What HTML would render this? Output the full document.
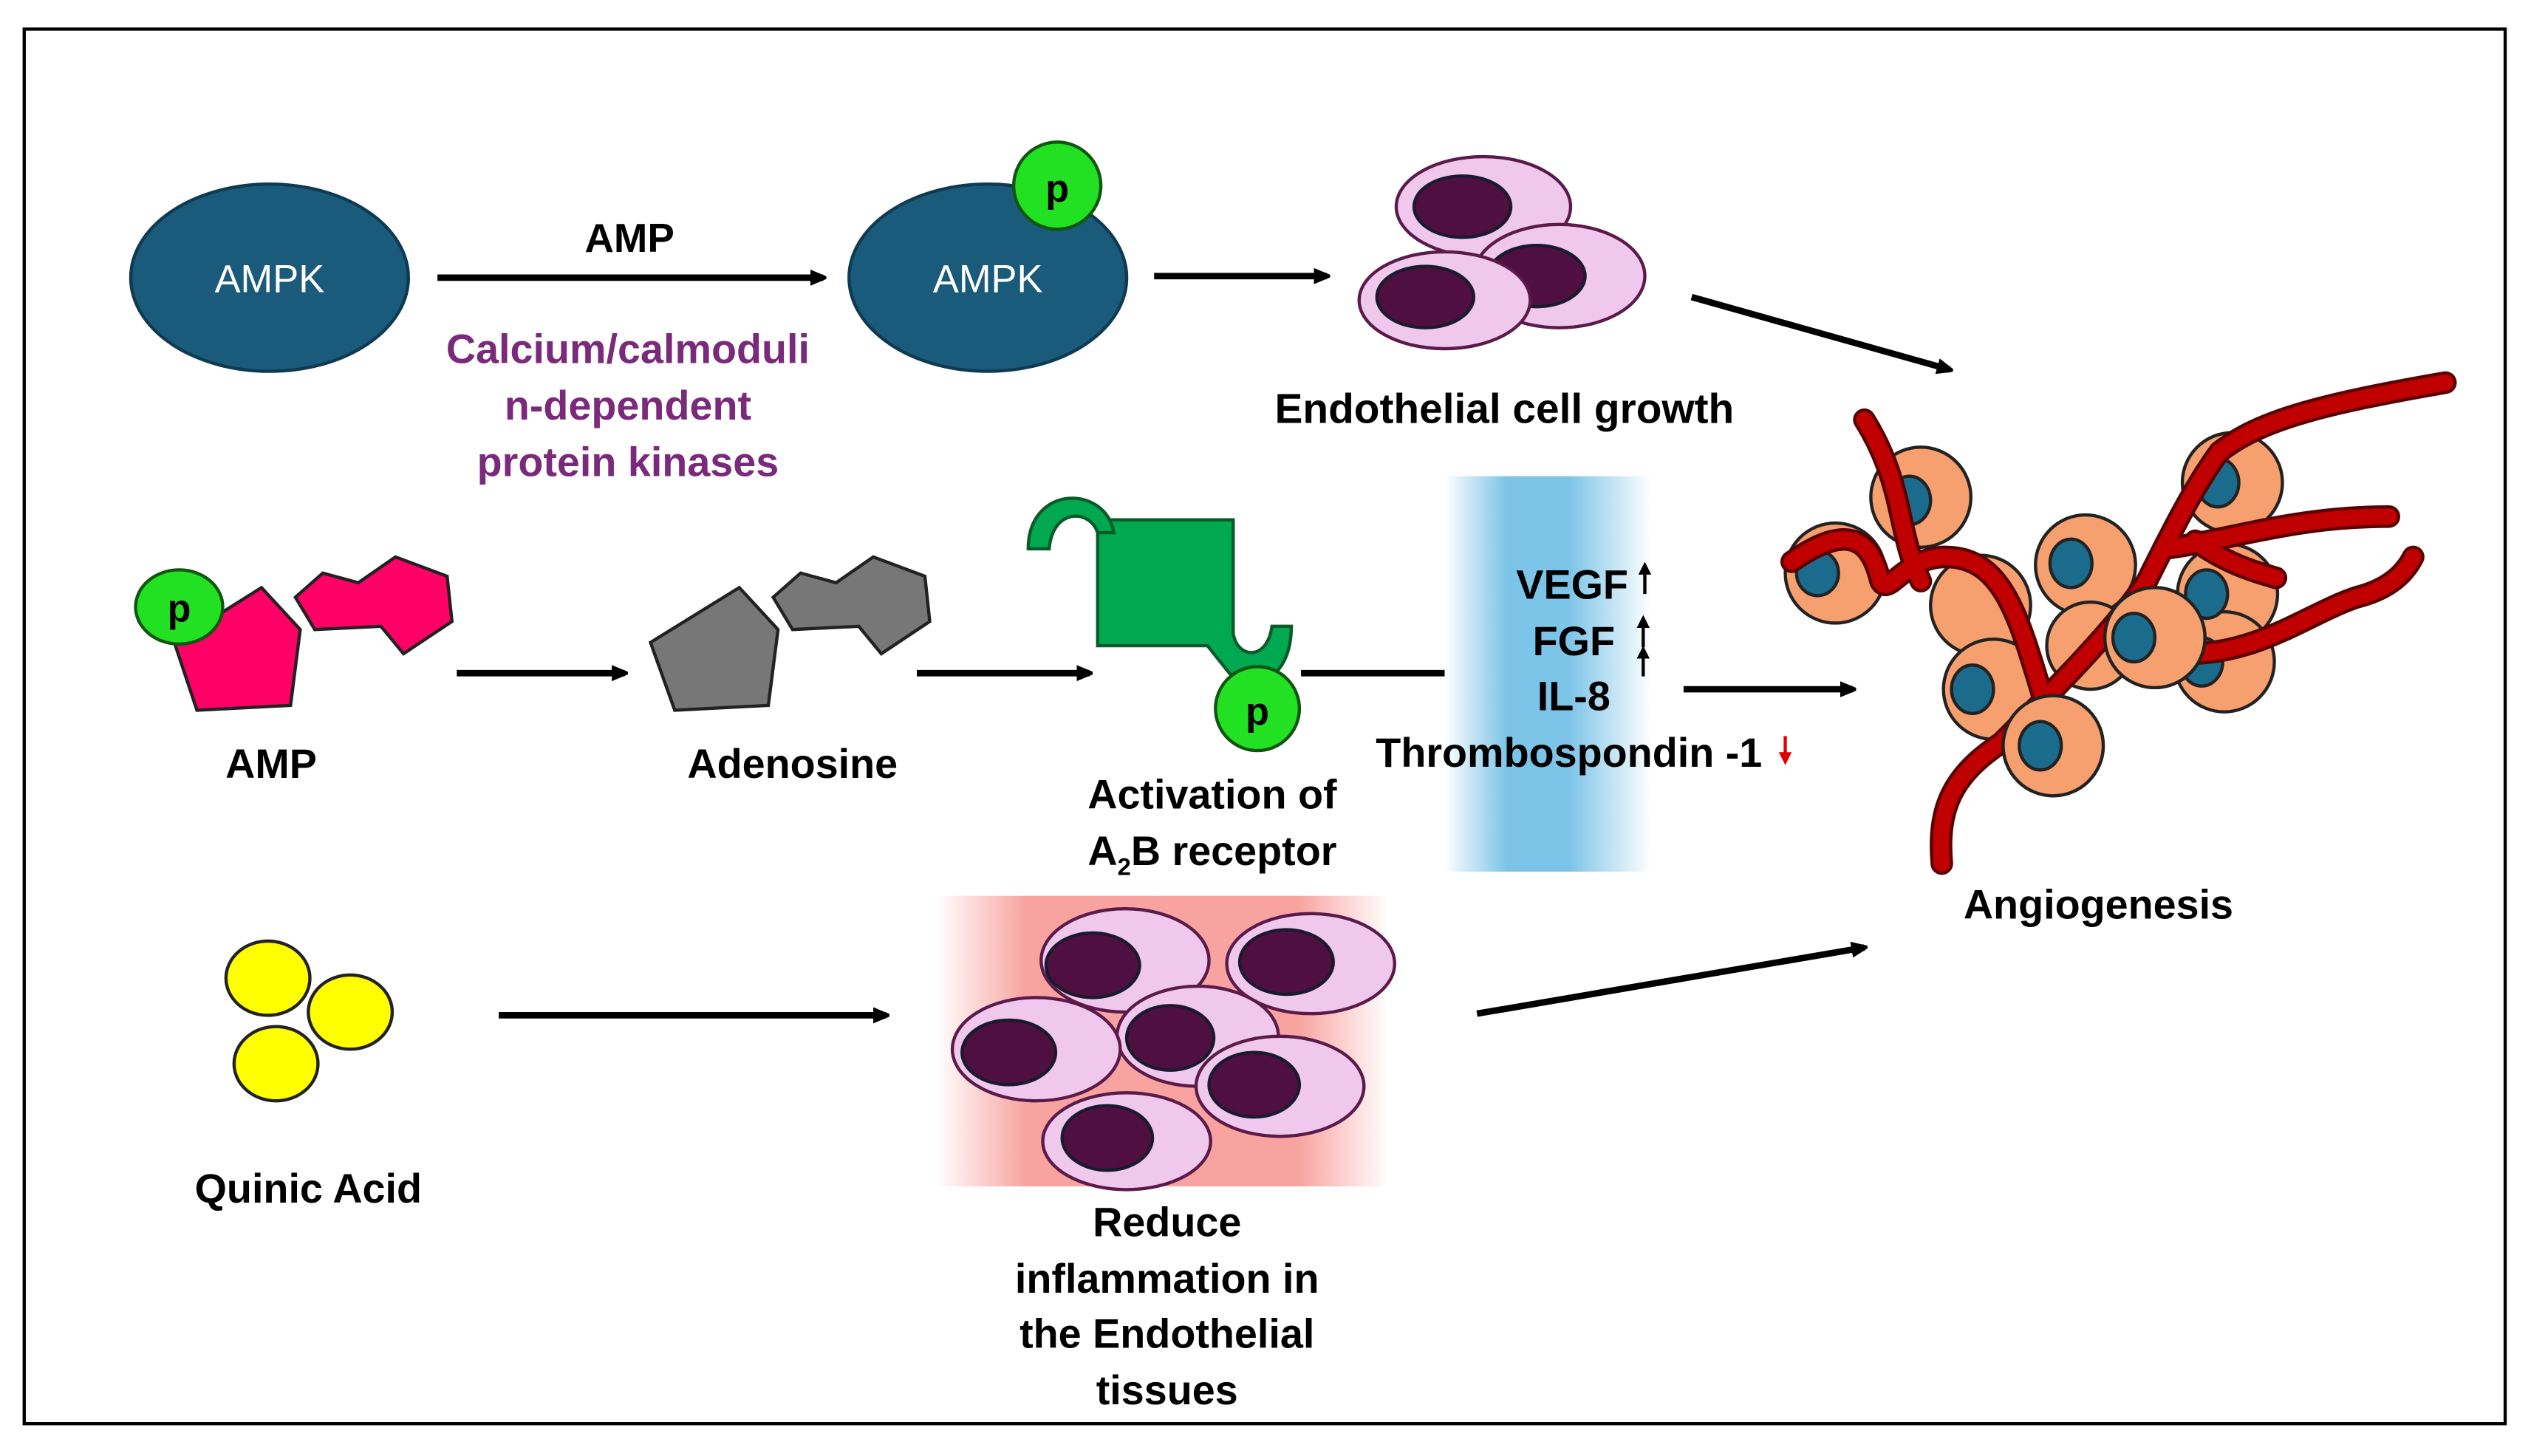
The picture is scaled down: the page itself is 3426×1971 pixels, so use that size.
<!DOCTYPE html>
<html><head><meta charset="utf-8"><style>
html,body{margin:0;padding:0;background:#fff;}
svg{display:block;}
text{font-family:"Liberation Sans",sans-serif;font-weight:bold;}
</style></head><body>
<svg width="3426" height="1971" viewBox="0 0 1568 902" xmlns="http://www.w3.org/2000/svg">
<defs>
<marker id="ah" markerWidth="10" markerHeight="10" refX="8" refY="5" orient="auto" markerUnits="userSpaceOnUse"><path d="M0,0 L12,5 L0,10 Z" fill="#000"/></marker>
<linearGradient id="blue" x1="0" x2="1" y1="0" y2="0">
<stop offset="0" stop-color="#fff"/><stop offset="0.3" stop-color="#7cc4e8"/><stop offset="0.6" stop-color="#7cc4e8"/><stop offset="1" stop-color="#fff"/></linearGradient>
<linearGradient id="red" x1="0" x2="1" y1="0" y2="0">
<stop offset="0" stop-color="#fff"/><stop offset="0.2" stop-color="#f8a3a0"/><stop offset="0.8" stop-color="#f8a3a0"/><stop offset="1" stop-color="#fff"/></linearGradient>
</defs>
<rect x="15" y="18" width="1537" height="864" fill="#fff" stroke="#000" stroke-width="2"/>

<ellipse cx="167" cy="172" rx="86" ry="58" fill="#1a5a7a" stroke="#0e3a52" stroke-width="2"/>
<text x="167" y="181" font-size="24" fill="#fff" text-anchor="middle" style="font-weight:normal">AMPK</text>
<ellipse cx="612" cy="172" rx="86" ry="58" fill="#1a5a7a" stroke="#0e3a52" stroke-width="2"/>
<text x="612" y="181" font-size="24" fill="#fff" text-anchor="middle" style="font-weight:normal">AMPK</text>
<circle cx="655" cy="115" r="27" fill="#22e022" stroke="#115511" stroke-width="2"/>
<text x="655" y="125" font-size="24" text-anchor="middle">p</text>
<line x1="271" y1="172" x2="510" y2="172" stroke="#000" stroke-width="4" marker-end="url(#ah)"/>
<text x="390" y="156" font-size="25" text-anchor="middle">AMP</text>
<g font-size="25.5" fill="#7a2a7a" text-anchor="middle">
<text x="389" y="225">Calcium/calmoduli</text>
<text x="389" y="260">n-dependent</text>
<text x="389" y="295">protein kinases</text></g>
<line x1="715" y1="171" x2="822" y2="171" stroke="#000" stroke-width="4" marker-end="url(#ah)"/>

<g stroke="#5a1a4a" stroke-width="2" fill="#f0c8ee">
<ellipse cx="919" cy="128" rx="54" ry="31"/>
<ellipse cx="906" cy="128" rx="30" ry="19" fill="#4f0f40" stroke="#1a1a30"/>
<ellipse cx="966" cy="171" rx="53" ry="32"/>
<ellipse cx="952" cy="171" rx="30" ry="19" fill="#4f0f40" stroke="#1a1a30"/>
<ellipse cx="895" cy="186" rx="53" ry="30"/>
<ellipse cx="883" cy="184" rx="30" ry="19" fill="#4f0f40" stroke="#1a1a30"/>
</g>
<text x="932" y="262" font-size="26" text-anchor="middle">Endothelial cell growth</text>
<line x1="1048" y1="184" x2="1208" y2="229" stroke="#000" stroke-width="4" marker-end="url(#ah)"/>

<g stroke="#222" stroke-width="2">
<polygon points="195,390 183,370 200,355 222,361 245,345 277,357 280,385 250,405 236,388" fill="#ff0066"/>
<polygon points="108,398 162,364 186,390 180,437 122,440" fill="#ff0066"/>
<polygon points="403,398 458,364 482,390 476,437 418,440" fill="#777"/>
<polygon points="491,390 479,370 496,355 518,361 541,345 573,357 576,385 546,405 532,388" fill="#777"/>
</g>
<ellipse cx="111" cy="376" rx="27" ry="23" fill="#22e022" stroke="#115511" stroke-width="2"/>
<text x="111" y="385" font-size="24" text-anchor="middle">p</text>
<text x="168" y="482" font-size="25.5" text-anchor="middle">AMP</text>
<text x="491" y="482" font-size="25.5" text-anchor="middle">Adenosine</text>
<line x1="283" y1="417" x2="387" y2="417" stroke="#000" stroke-width="4" marker-end="url(#ah)"/>
<line x1="568" y1="417" x2="675" y2="417" stroke="#000" stroke-width="4" marker-end="url(#ah)"/>

<path d="M680,322 L764,322 L764,392 C766,408 785,410 788,388 L800,388 C800,410 790,420 778,425 L768,425 C760,415 752,405 748,400 L680,400 Z" fill="#00a850" stroke="#0a5a2a" stroke-width="2"/>
<path d="M637,340 C637,300 685,300 690,330 L680,330 C675,315 652,315 650,340 Z" fill="#00a850" stroke="#0a5a2a" stroke-width="2"/>
<circle cx="779" cy="439" r="26" fill="#22e022" stroke="#115511" stroke-width="2"/>
<text x="779" y="449" font-size="24" text-anchor="middle">p</text>
<text x="751" y="501" font-size="25.5" text-anchor="middle">Activation of</text>
<text x="751" y="536" font-size="25.5" text-anchor="middle">A<tspan font-size="15" dy="6">2</tspan><tspan dy="-6">B receptor</tspan></text>
<line x1="806" y1="417" x2="895" y2="417" stroke="#000" stroke-width="4"/>

<rect x="895" y="295" width="128" height="245" fill="url(#blue)"/>
<g font-size="25.5" text-anchor="middle">
<text x="974" y="371">VEGF</text>
<text x="975" y="406">FGF</text>
<text x="975" y="440">IL-8</text>
<text x="972" y="475">Thrombospondin -1</text></g>
<g stroke="#000" stroke-width="2">
<line x1="1019" y1="368" x2="1019" y2="352"/><line x1="1018" y1="401" x2="1018" y2="385"/><line x1="1018" y1="419" x2="1018" y2="404"/></g>
<g fill="#000"><path d="M1015,356 L1019,348 L1023,356Z"/><path d="M1014,389 L1018,381 L1022,389Z"/><path d="M1014,408 L1018,400 L1022,408Z"/></g>
<line x1="1106" y1="456" x2="1106" y2="470" stroke="#e00000" stroke-width="2"/>
<path d="M1102,466 L1106,474 L1110,466Z" fill="#e00000"/>
<line x1="1043" y1="427" x2="1148" y2="427" stroke="#000" stroke-width="4" marker-end="url(#ah)"/>

<g fill="#ffff00" stroke="#222" stroke-width="2">
<ellipse cx="166" cy="606" rx="26" ry="23"/>
<ellipse cx="217" cy="627" rx="26" ry="23"/>
<ellipse cx="171" cy="659" rx="26" ry="23"/></g>
<text x="191" y="745" font-size="25.5" text-anchor="middle">Quinic Acid</text>
<line x1="309" y1="629" x2="549" y2="629" stroke="#000" stroke-width="4" marker-end="url(#ah)"/>

<rect x="580" y="555" width="280" height="180" fill="url(#red)"/>
<g stroke="#5a1a4a" stroke-width="2" fill="#f0c8ee">
<ellipse cx="697" cy="595" rx="52" ry="32"/><ellipse cx="677" cy="598" rx="29" ry="20" fill="#4f0f40" stroke="#1a1a30"/>
<ellipse cx="812" cy="597" rx="52" ry="31"/><ellipse cx="797" cy="596" rx="29" ry="20" fill="#4f0f40" stroke="#1a1a30"/>
<ellipse cx="742" cy="642" rx="50" ry="31"/><ellipse cx="725" cy="643" rx="27" ry="20" fill="#4f0f40" stroke="#1a1a30"/>
<ellipse cx="642" cy="650" rx="52" ry="32"/><ellipse cx="625" cy="652" rx="29" ry="20" fill="#4f0f40" stroke="#1a1a30"/>
<ellipse cx="793" cy="673" rx="52" ry="31"/><ellipse cx="777" cy="672" rx="28" ry="20" fill="#4f0f40" stroke="#1a1a30"/>
<ellipse cx="698" cy="707" rx="52" ry="30"/><ellipse cx="686" cy="705" rx="28" ry="20" fill="#4f0f40" stroke="#1a1a30"/>
</g>
<g font-size="25.5" text-anchor="middle">
<text x="723" y="766">Reduce</text>
<text x="723" y="801">inflammation in</text>
<text x="723" y="835">the Endothelial</text>
<text x="723" y="870">tissues</text></g>
<line x1="915" y1="628" x2="1155" y2="587" stroke="#000" stroke-width="4" marker-end="url(#ah)"/>

<g fill="#f5a06e" stroke="#222" stroke-width="2">
<circle cx="1190" cy="308" r="31"/>
<circle cx="1137" cy="355" r="31"/>
<circle cx="1227" cy="375" r="31"/>
<circle cx="1292" cy="350" r="31"/>
<circle cx="1383" cy="299" r="31"/>
<circle cx="1380" cy="368" r="31"/>
<circle cx="1295" cy="400" r="27"/>
<circle cx="1378" cy="410" r="31"/>
<circle cx="1235" cy="427" r="31"/>
<circle cx="1335" cy="395" r="31"/>
<circle cx="1272" cy="462" r="31"/>
</g>
<g fill="#1a6b8c" stroke="#222" stroke-width="2">
<ellipse cx="1183" cy="310" rx="13" ry="15"/>
<ellipse cx="1126" cy="355" rx="13" ry="14"/>
<ellipse cx="1283" cy="349" rx="13" ry="15"/>
<ellipse cx="1374" cy="299" rx="13" ry="15"/>
<ellipse cx="1367" cy="368" rx="13" ry="15"/>
<ellipse cx="1364" cy="410" rx="13" ry="15"/>
<ellipse cx="1222" cy="427" rx="13" ry="15"/>
<ellipse cx="1264" cy="462" rx="13" ry="15"/>
</g>
<g fill="none" stroke-linecap="round" stroke-linejoin="round">
<g stroke="#5a0000" stroke-width="14">
<path d="M1203,535 C1200,500 1210,480 1240,460 C1270,430 1310,390 1330,360 C1345,330 1360,300 1375,280 C1400,260 1440,250 1515,237"/>
<path d="M1265,430 C1250,380 1240,345 1205,345 C1180,345 1170,370 1165,360 C1160,340 1150,320 1110,348"/>
<path d="M1190,360 C1175,330 1180,300 1155,260"/>
<path d="M1340,340 C1380,335 1420,320 1480,320"/>
<path d="M1360,335 C1380,350 1400,355 1410,358"/>
<path d="M1355,405 C1400,405 1430,380 1460,370 C1480,365 1490,355 1495,345"/>
</g>
<g stroke="#c00000" stroke-width="10">
<path d="M1203,535 C1200,500 1210,480 1240,460 C1270,430 1310,390 1330,360 C1345,330 1360,300 1375,280 C1400,260 1440,250 1515,237"/>
<path d="M1265,430 C1250,380 1240,345 1205,345 C1180,345 1170,370 1165,360 C1160,340 1150,320 1110,348"/>
<path d="M1190,360 C1175,330 1180,300 1155,260"/>
<path d="M1340,340 C1380,335 1420,320 1480,320"/>
<path d="M1360,335 C1380,350 1400,355 1410,358"/>
<path d="M1355,405 C1400,405 1430,380 1460,370 C1480,365 1490,355 1495,345"/>
</g>
</g>
<g fill="#f5a06e" stroke="#222" stroke-width="2">
<circle cx="1335" cy="395" r="31"/>
<circle cx="1272" cy="462" r="31"/>
</g>
<g fill="#1a6b8c" stroke="#222" stroke-width="2">
<ellipse cx="1322" cy="395" rx="13" ry="15"/>
<ellipse cx="1264" cy="462" rx="13" ry="15"/>
</g>
<text x="1300" y="569" font-size="25.5" text-anchor="middle">Angiogenesis</text>
</svg>
</body></html>
